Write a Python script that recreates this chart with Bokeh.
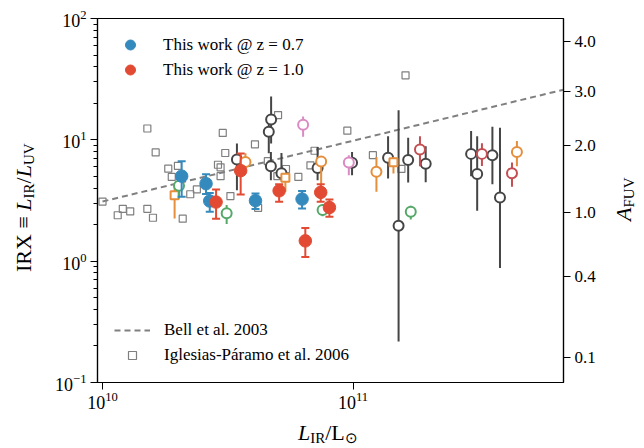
from bokeh.plotting import figure
from bokeh.models import (LogAxis, FixedTicker, CustomJSTickFormatter, Legend,
                          LegendItem, Range1d, Div)
from bokeh.layouts import row, column
from bokeh.embed import file_html
from bokeh.resources import INLINE

# ---------------- data ----------------
# This work @ z = 0.7
z07_L = [2.07e10, 2.59e10, 2.68e10, 4.08e10, 6.26e10]
z07_irx = [5.02, 4.35, 3.13, 3.15, 3.25]
z07_lo = [3.39, 3.57, 2.55, 2.69, 2.72]
z07_hi = [6.67, 5.21, 3.64, 3.62, 3.78]

# This work @ z = 1.0
z10_L = [2.84e10, 3.56e10, 5.07e10, 7.43e10, 8.05e10, 6.45e10]
z10_irx = [3.07, 5.57, 3.80, 3.69, 2.77, 1.47]
z10_lo = [2.24, 3.55, 3.09, 3.09, 2.32, 1.08]
z10_hi = [3.90, 7.71, 4.31, 4.31, 3.23, 1.88]

# other samples (open symbols)
dark_L = [3.44e10, 4.71e10, 4.61e10, 4.70e10, 5.18e10, 7.22e10, 9.91e10, 1.38e11,
          1.52e11, 1.66e11, 1.95e11, 2.96e11, 3.13e11, 3.60e11, 3.86e11]
dark_irx = [6.89, 14.69, 11.66, 6.07, 5.31, 5.87, 6.46, 7.13, 1.96, 6.83, 6.34, 7.66,
            5.24, 7.47, 3.35]
dark_lo = [3.85, 9.32, 7.76, 4.65, 4.65, 4.65, 5.11, 4.81, 0.218, 4.46, 4.48, 5.02,
           2.60, 4.31, 0.88]
dark_hi = [9.32, 22.8, 15.9, 7.95, 7.80, 8.74, 7.95, 10.7, 17.5, 10.4, 8.86, 11.8,
           10.7, 12.8, 12.6]

orange_c_L = [3.72e10, 7.46e10, 1.24e11, 4.51e11]
orange_c_irx = [6.58, 6.63, 5.45, 7.95]
orange_c_lo = [5.62, 3.85, 3.73, 6.07]
orange_c_hi = [7.76, 7.23, 7.23, 9.79]

orange_s_L = [1.94e10, 5.37e10, 1.45e11]
orange_s_irx = [3.50, 4.88, 6.52]
orange_s_lo = [2.25, 3.73, 5.28]
orange_s_hi = [4.23, 5.31, 7.23]

green_L = [2.02e10, 3.13e10, 7.56e10, 1.70e11]
green_irx = [4.18, 2.48, 2.64, 2.55]
green_lo = [3.29, 2.02, 2.35, 2.21]
green_hi = [4.59, 2.90, 2.95, 2.86]

pink_L = [6.32e10, 9.62e10]
pink_irx = [13.3, 6.51]
pink_lo = [10.6, 5.11]
pink_hi = [15.6, 7.47]

brown_L = [1.85e11, 3.27e11, 4.31e11]
brown_irx = [8.32, 7.66, 5.31]
brown_lo = [6.07, 6.10, 4.10]
brown_hi = [10.7, 9.38, 6.51]

# Iglesias-Paramo et al. 2006
ip_L = [1.00e10, 1.15e10, 1.205e10, 1.29e10, 1.51e10, 1.63e10, 1.51e10, 1.59e10,
        1.83e10, 1.89e10, 2.00e10, 2.09e10, 2.24e10, 2.38e10, 3.02e10, 3.09e10,
        2.89e10, 2.96e10, 2.96e10, 3.24e10, 4.06e10, 4.18e10, 5.02e10, 4.57e10,
        5.40e10, 6.05e10, 6.76e10, 7.02e10, 9.49e10, 1.20e11, 1.56e11, 1.62e11, 4.99e10]
ip_irx = [3.10, 2.39, 2.70, 2.57, 12.4, 7.88, 2.70, 2.28, 5.79, 4.95, 6.09, 2.24,
          3.56, 3.90, 11.4, 7.79, 6.23, 5.93, 5.02, 3.44, 9.18, 2.75, 16.0, 6.67,
          5.75, 4.95, 6.16, 8.13, 11.9, 7.47, 5.76, 34.0, 5.02]

# Bell et al. 2003 relation (end points)
bell_L = [1.0e10, 6.92e11]
bell_irx = [3.10, 25.9]

# axis ticks
x_ticks = [1e10, 1e11]
y_ticks = [0.1, 1, 10, 100]
afuv_ticks = [0.1, 0.4, 1.0, 2.0, 3.0, 4.0]
IRX_B = 1.68

# ---------------- style ----------------
FONT = "Liberation Serif"
BLUE = "#348ABD"
RED = "#E24A33"
DARK = "#454545"
ORANGE = "#E58E3B"
GREEN = "#55A868"
PINK = "#DA8BC3"
BROWN = "#C44E52"
GRAY = "#7F7F7F"

LEFT_W, RIGHT_W, BOTTOM_H = 40, 32, 24
FIG_W, FIG_H = 644 - LEFT_W - RIGHT_W, 448 - BOTTOM_H

p = figure(x_axis_type="log", y_axis_type="log",
           x_range=Range1d(9.55e9, 6.92e11), y_range=Range1d(0.1, 100),
           frame_width=466, frame_height=364,
           min_border_left=97 - LEFT_W, min_border_right=FIG_W - (97 - LEFT_W) - 466,
           min_border_top=18, min_border_bottom=FIG_H - 18 - 364,
           output_backend="svg", toolbar_location=None, margin=0)
p.grid.visible = False
p.outline_line_color = "black"
p.outline_line_width = 1.2
p.background_fill_color = "white"
p.border_fill_color = "white"

minor = [k * 10.0 ** n for n in (-1, 0, 1) for k in range(2, 10)]

xa = p.xaxis[0]
xa.ticker = FixedTicker(ticks=x_ticks, minor_ticks=[])
ya = p.yaxis[0]
ya.ticker = FixedTicker(ticks=y_ticks, minor_ticks=minor)

afuv_pos = [IRX_B * (10 ** (0.4 * a) - 1) for a in afuv_ticks]
ra = LogAxis(ticker=FixedTicker(ticks=afuv_pos, minor_ticks=[]),
             formatter=CustomJSTickFormatter(
                 code="return (2.5*Math.log10(1 + tick/%s)).toFixed(1);" % IRX_B))
p.add_layout(ra, "right")

for ax in (xa, ya, ra):
    ax.axis_line_color = "black"
    ax.axis_line_width = 1.2
    ax.major_tick_line_color = "black"
    ax.major_tick_out = 7
    ax.major_tick_in = 0
    ax.minor_tick_out = 4
    ax.minor_tick_in = 0
    ax.major_label_text_font = FONT
    ax.major_label_text_font_size = "18px"
    ax.major_label_text_color = "black"
    ax.major_label_standoff = 4
    ax.axis_label = None
xa.major_label_standoff = 2
ra.major_label_text_font_size = "17px"

# ---------------- glyphs ----------------
bell_r = p.line(bell_L, bell_irx, line_color="#808080", line_width=2, line_dash="6 4")
sq_r = p.scatter(ip_L, ip_irx, marker="square", size=7, line_color=GRAY,
                 line_width=1.2, fill_alpha=0)


def open_group(L, y, lo, hi, color, marker="circle", size=10):
    p.segment(L, lo, L, hi, line_color=color, line_width=2)
    p.scatter(L, y, marker=marker, size=size, line_color=color, line_width=2,
              fill_color="white")


open_group(dark_L, dark_irx, dark_lo, dark_hi, DARK)
open_group(orange_c_L, orange_c_irx, orange_c_lo, orange_c_hi, ORANGE)
open_group(orange_s_L, orange_s_irx, orange_s_lo, orange_s_hi, ORANGE, "square", 8)
open_group(green_L, green_irx, green_lo, green_hi, GREEN)
open_group(pink_L, pink_irx, pink_lo, pink_hi, PINK)
open_group(brown_L, brown_irx, brown_lo, brown_hi, BROWN)


def filled_group(L, y, lo, hi, color):
    p.segment(L, lo, L, hi, line_color=color, line_width=2)
    p.scatter(L, lo, marker="dash", size=8, line_color=color, line_width=2)
    p.scatter(L, hi, marker="dash", size=8, line_color=color, line_width=2)
    return p.scatter(L, y, marker="circle", size=12.5, fill_color=color,
                     line_color=color, line_width=1)


blue_r = filled_group(z07_L, z07_irx, z07_lo, z07_hi, BLUE)
red_r = filled_group(z10_L, z10_irx, z10_lo, z10_hi, RED)

# ---------------- legends ----------------
def style_legend(leg):
    leg.border_line_alpha = 0
    leg.background_fill_alpha = 0
    leg.glyph_width = 36
    leg.glyph_height = 20
    leg.label_height = 20
    leg.spacing = 5
    leg.padding = 6
    leg.label_standoff = 14
    leg.label_text_font = FONT
    leg.label_text_font_size = "17px"
    leg.label_text_color = "black"


leg1 = Legend(items=[LegendItem(label="This work @ z = 0.7", renderers=[blue_r]),
                     LegendItem(label="This work @ z = 1.0", renderers=[red_r])],
              location="top_left")
style_legend(leg1)
leg1.glyph_height = 25
leg1.label_height = 25
leg1.glyph_width = 38
leg1.spacing = 0
leg1.margin = 8
leg2 = Legend(items=[LegendItem(label="Bell et al. 2003", renderers=[bell_r]),
                     LegendItem(label="Iglesias-Páramo et al. 2006", renderers=[sq_r])],
              location="bottom_left")
style_legend(leg2)
leg2.margin = 11
p.add_layout(leg1)
p.add_layout(leg2)

# ---------------- axis titles as text with sub-scripts ----------------
TXT = ("font-family:'Liberation Serif',serif;font-size:22px;line-height:22px;"
       "white-space:nowrap;color:black;position:absolute;")
SUB = "font-size:15px;position:relative;top:3px;"


def wrap(w, h, inner):
    return ('<div style="position:relative;width:%dpx;height:%dpx;">%s</div>'
            % (w, h, inner))


rot = "transform:rotate(-90deg);transform-origin:0 0;"

left_html = wrap(LEFT_W, FIG_H,
                 '<div style="%s%sleft:13px;top:272px;">IRX \u2261 <i>L</i>'
                 '<span style="%s">IR</span>/<i>L</i><span style="%s">UV</span></div>'
                 % (TXT, rot, SUB, SUB))
right_html = wrap(RIGHT_W, FIG_H,
                  '<div style="%s%sleft:1px;top:221px;"><i>A</i>'
                  '<span style="%s">FUV</span></div>' % (TXT, rot, SUB))
bottom_html = wrap(644, BOTTOM_H,
                   '<div style="%sleft:298px;top:-2px;"><i>L</i>'
                   '<span style="%s">IR</span>/L<span style="%s">\u2299</span></div>'
                   % (TXT, SUB, SUB))

left_div = Div(text=left_html, width=LEFT_W, height=FIG_H, margin=0)
right_div = Div(text=right_html, width=RIGHT_W, height=FIG_H, margin=0)
bottom_div = Div(text=bottom_html, width=644, height=BOTTOM_H, margin=0)

layout = column(row(left_div, p, right_div, spacing=0), bottom_div, spacing=0)

open("out.html", "w").write(file_html(layout, INLINE))
